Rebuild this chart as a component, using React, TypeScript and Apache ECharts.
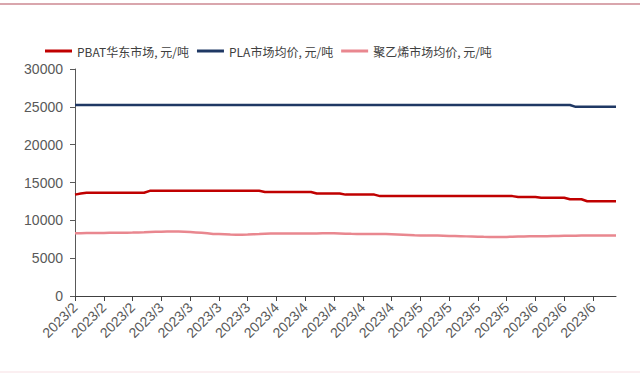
import React, { useEffect, useRef } from "react";
import * as echarts from "echarts";

const tickLabels = [
  "2023/2", "2023/2", "2023/2",
  "2023/3", "2023/3", "2023/3", "2023/3",
  "2023/4", "2023/4", "2023/4", "2023/4", "2023/4",
  "2023/5", "2023/5", "2023/5", "2023/5",
  "2023/6", "2023/6", "2023/6",
];

const seriesNames = ["PBAT华东市场, 元/吨", "PLA市场均价, 元/吨", "聚乙烯市场均价, 元/吨"];

const pbat = [
  13400, 13550,
  13650, 13650, 13650, 13650, 13650, 13650, 13650, 13650, 13650, 13650, 13650,
  13900, 13900, 13900, 13900, 13900, 13900, 13900, 13900, 13900, 13900,
  13900, 13900, 13900, 13900, 13900, 13900, 13900, 13900, 13900, 13900,
  13750, 13750, 13750, 13750, 13750, 13750, 13750, 13750, 13750,
  13550, 13550, 13550, 13550, 13550,
  13400, 13400, 13400, 13400, 13400, 13400,
  13200, 13200, 13200, 13200, 13200, 13200, 13200, 13200, 13200, 13200, 13200, 13200,
  13200, 13200, 13200, 13200, 13200, 13200, 13200, 13200, 13200, 13200, 13200, 13200,
  13080, 13080, 13080, 13080,
  12990, 12990, 12990, 12990, 12990,
  12780, 12780, 12780,
  12520, 12520, 12520, 12520, 12520, 12520,
];

const pla = [
  25250, 25250, 25250, 25250, 25250, 25250, 25250, 25250, 25250, 25250,
  25250, 25250, 25250, 25250, 25250, 25250, 25250, 25250, 25250, 25250,
  25250, 25250, 25250, 25250, 25250, 25250, 25250, 25250, 25250, 25250,
  25250, 25250, 25250, 25250, 25250, 25250, 25250, 25250, 25250, 25250,
  25250, 25250, 25250, 25250, 25250, 25250, 25250, 25250, 25250, 25250,
  25250, 25250, 25250, 25250, 25250, 25250, 25250, 25250, 25250, 25250,
  25250, 25250, 25250, 25250, 25250, 25250, 25250, 25250, 25250, 25250,
  25250, 25250, 25250, 25250, 25250, 25250, 25250, 25250, 25250, 25250,
  25250, 25250, 25250, 25250, 25250, 25250, 25250,
  25000, 25000, 25000, 25000, 25000, 25000, 25000, 25000,
];

const pe = [
  8300, 8300, 8310, 8320, 8330, 8340, 8350, 8350, 8360, 8370,
  8380, 8400, 8420, 8450, 8480, 8500, 8520, 8530, 8520, 8500,
  8450, 8400, 8350, 8280, 8200, 8180, 8150, 8120, 8110, 8100,
  8120, 8150, 8180, 8220, 8250, 8260, 8260, 8250, 8250, 8250,
  8250, 8260, 8270, 8280, 8280, 8280, 8260, 8240, 8220, 8210,
  8200, 8200, 8200, 8200, 8180, 8150, 8120, 8090, 8060, 8030,
  8010, 8000, 7990, 7980, 7960, 7940, 7920, 7900, 7880, 7860,
  7840, 7820, 7810, 7800, 7800, 7810, 7830, 7850, 7870, 7880,
  7890, 7900, 7910, 7930, 7940, 7950, 7960, 7970, 7980, 7980,
  7980, 7980, 7980, 7980, 7980,
];

const colors = ["#C00000", "#1F3864", "#E9878F"];

export default function App() {
  const ref = useRef<HTMLDivElement>(null);
  useEffect(() => {
    if (!ref.current) return;
    const chart = echarts.init(ref.current, null, { renderer: "svg" });
    const categories = pbat.map((_, i) => String(i));
    const step = 5;
    chart.setOption({
      animation: false,
      backgroundColor: "#ffffff",
      color: colors,
      textStyle: { fontFamily: "'Liberation Sans', Arial, 'Noto Sans CJK SC', sans-serif" },
      graphic: [
        { type: "rect", left: 0, top: 3, shape: { width: 640, height: 2 }, style: { fill: "#D9A6AD" } },
        { type: "rect", left: 0, top: 371, shape: { width: 640, height: 2 }, style: { fill: "#FBEFF1" } },
      ],
      legend: {
        left: 40,
        top: 40,
        itemWidth: 27,
        itemHeight: 3,
        itemGap: 8,
        icon: "rect",
        textStyle: {
          fontSize: 12,
          color: "#404040",
          fontFamily: "'Noto Sans CJK SC', sans-serif",
        },
        data: seriesNames,
      },
      grid: { left: 75, right: 24, top: 69, bottom: 77, containLabel: false },
      xAxis: {
        type: "category",
        data: categories,
        boundaryGap: false,
        axisLine: { lineStyle: { color: "#404040", width: 1 } },
        axisTick: { interval: step - 1, length: 5, lineStyle: { color: "#404040" } },
        axisLabel: {
          interval: step - 1,
          rotate: 45,
          fontSize: 14,
          color: "#595959",
          margin: 9,
          formatter: (_v: string, i: number) => tickLabels[Math.round(i / step)] ?? "",
        },
        splitLine: { show: false },
      },
      yAxis: {
        type: "value",
        min: 0,
        max: 30000,
        interval: 5000,
        axisLine: { show: true, lineStyle: { color: "#595959", width: 1 } },
        axisTick: { show: true, length: 5, lineStyle: { color: "#595959" } },
        axisLabel: { fontSize: 14, color: "#595959", margin: 12, formatter: (v: number) => String(v) },
        splitLine: { show: false },
      },
      series: [
        { name: seriesNames[0], type: "line", data: pbat, showSymbol: false, symbol: "none", lineStyle: { width: 2.5, color: colors[0] }, itemStyle: { color: colors[0] } },
        { name: seriesNames[1], type: "line", data: pla, showSymbol: false, symbol: "none", lineStyle: { width: 2.5, color: colors[1] }, itemStyle: { color: colors[1] } },
        { name: seriesNames[2], type: "line", data: pe, showSymbol: false, symbol: "none", lineStyle: { width: 2.5, color: colors[2] }, itemStyle: { color: colors[2] } },
      ],
    });
    return () => chart.dispose();
  }, []);
  return (
    <div
      ref={ref}
      style={{ position: "fixed", left: 0, top: 0, width: 640, height: 373 }}
    />
  );
}
